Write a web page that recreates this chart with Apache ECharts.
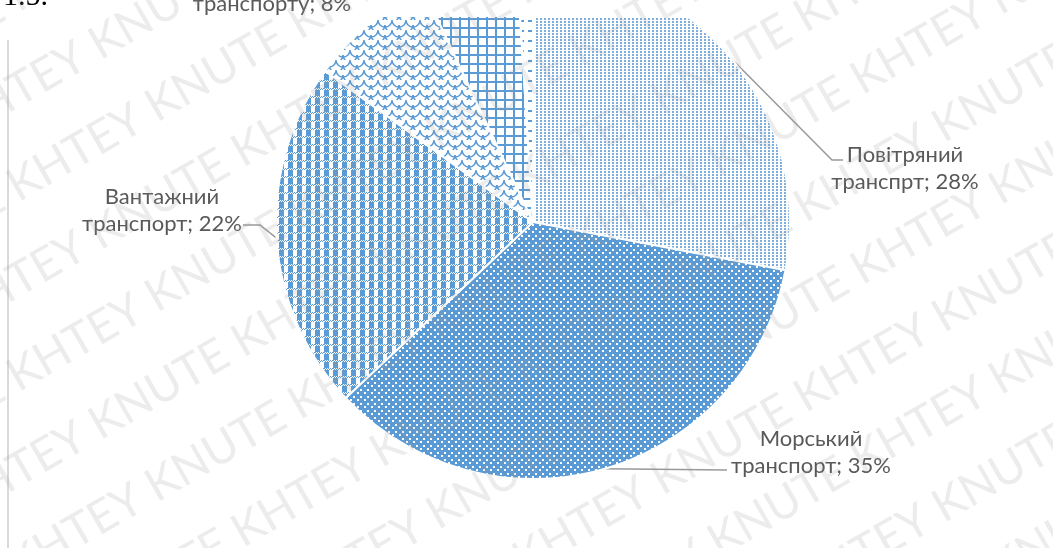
<!DOCTYPE html>
<html>
<head>
<meta charset="utf-8">
<script src="https://cdn.jsdelivr.net/npm/echarts@6/dist/echarts.min.js"></script>
<style>
  html, body { margin: 0; padding: 0; background: #fff; }
  #main { width: 1053px; height: 548px; }
</style>
</head>
<body>
<div id="main"></div>
<script>
// дані діаграми
var names = ['Повітряний\nтранспрт', 'Морський\nтранспорт', 'Вантажний\nтранспорт',
             'Залізничного\nтранспорту', 'Автомобільний\nтранспорт', 'Інший\nтранспорт'];
var values = [28, 35, 22, 8, 6, 1];

// розташування підписів (x, y) і точки виносних ліній
var labelPos = [[905, 168], [811, 452], [162, 210], [272, -10], [470, -70], [560, -70]];
var linePts = [
    [[832, 160], [843, 160]],
    [[727, 470], [727, 470]],
    [[260, 225], [243, 225]],
    null, null, null
];

var blue = '#5b9bd5';

function tile(w, h, draw) {
    var c = document.createElement('canvas');
    c.width = w; c.height = h;
    var g = c.getContext('2d');
    g.fillStyle = '#fff';
    g.fillRect(0, 0, w, h);
    draw(g);
    return { image: c, repeat: 'repeat' };
}

var patterns = [
    // дрібні точки
    tile(4, 3, function (g) { g.fillStyle = 'rgba(91,155,213,0.8)'; g.fillRect(0, 0, 2, 2); }),
    // щільна заливка з білими точками
    tile(7, 7, function (g) {
        g.fillStyle = blue; g.fillRect(0, 0, 7, 7);
        g.fillStyle = '#fff'; g.fillRect(0, 0, 2, 2); g.fillRect(3, 4, 2, 2);
    }),
    // клітинка
    tile(9, 8, function (g) {
        g.fillStyle = blue;
        for (var x = 0; x < 9; x++) for (var y = 0; y < 2; y++) if ((x + y) % 2 === 0) g.fillRect(x, y, 1, 1);
        g.fillRect(0, 2, 5, 6);
    }),
    // луска
    tile(14, 10, function (g) {
        g.strokeStyle = blue; g.lineWidth = 1.4;
        g.beginPath(); g.arc(7, 0, 7, 0, Math.PI); g.stroke();
        g.beginPath(); g.arc(0, 5, 7, 0, Math.PI); g.stroke();
        g.beginPath(); g.arc(14, 5, 7, 0, Math.PI); g.stroke();
    }),
    // сітка
    tile(9, 9, function (g) {
        g.fillStyle = blue; g.fillRect(0, 0, 9, 2); g.fillRect(0, 0, 2, 9);
    }),
    // штрихи
    tile(8, 10, function (g) { g.fillStyle = blue; g.fillRect(0, 0, 4, 2); })
];

var data = names.map(function (n, i) {
    return {
        name: n,
        value: values[i],
        itemStyle: { color: patterns[i] },
        labelLine: { show: linePts[i] !== null }
    };
});

// водяний знак
var marks = [];
var row = '';
for (var k = 0; k < 12; k++) row += 'KNUTE KHTEY ';
for (var r = -8; r < 14; r++) {
    marks.push({
        type: 'text',
        x: -200,
        y: r * 95,
        rotation: Math.PI / 6,
        z: 100,
        silent: true,
        style: {
            text: (r % 2 ? 'TE ' : '') + row,
            font: '46px Lato',
            fill: 'rgba(150,150,150,0.18)'
        }
    });
}
// межа області побудови зверху
marks.push({
    type: 'rect', z: 50, silent: true,
    shape: { x: 360, y: -10, width: 380, height: 27 },
    style: { fill: '#fff' }
});
marks.push({
    type: 'line', z: 1,
    shape: { x1: 8, y1: 40, x2: 8, y2: 548 },
    style: { stroke: '#d9d9d9', lineWidth: 2 }
});
marks.push({
    type: 'text', x: 3, y: 12, z: 1,
    style: { text: '1.5.', font: '30px "Liberation Serif"', fill: '#000', textVerticalAlign: 'bottom' }
});

var myChart = echarts.init(document.getElementById('main'));
myChart.setOption({
    animation: false,
    graphic: marks,
    series: [{
        type: 'pie',
        center: [533, 222],
        radius: 257,
        startAngle: 90,
        clockwise: true,
        percentPrecision: 0,
        data: data,
        itemStyle: { borderColor: '#fff', borderWidth: 2 },
        label: {
            formatter: '{b}; {d}%',
            fontFamily: 'Lato',
            fontSize: 22,
            lineHeight: 27,
            color: '#595959'
        },
        labelLine: {
            lineStyle: { color: '#999', width: 1.5 }
        },
        labelLayout: function (p) {
            var i = p.dataIndex;
            var res = {
                x: labelPos[i][0],
                y: labelPos[i][1],
                align: 'center',
                verticalAlign: 'middle'
            };
            if (linePts[i] && p.labelLinePoints) {
                res.labelLinePoints = [p.labelLinePoints[0]].concat(linePts[i]);
            }
            return res;
        }
    }]
});
</script>
</body>
</html>
